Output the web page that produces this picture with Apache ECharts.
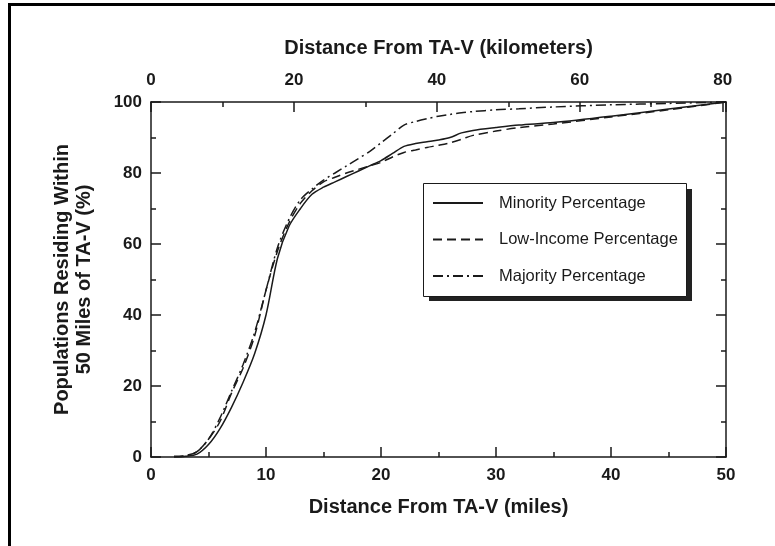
<!DOCTYPE html>
<html>
<head>
<meta charset="utf-8">
<script src="https://cdn.jsdelivr.net/npm/echarts@6/dist/echarts.min.js"></script>
<style>
  html, body { margin: 0; padding: 0; background: #fff; }
  #chart { width: 775px; height: 546px; }
</style>
</head>
<body>
<div id="chart"></div>
<script>
// distance from TA-V in miles
const miles = [2, 3, 4, 5, 6, 7, 8, 9, 10, 11, 12, 13, 14, 15, 16, 17, 18, 19, 20,
  21, 22, 23, 24, 25, 26, 27, 28, 30, 32, 35, 40, 45, 50];

// cumulative percentage of each population within the distance
const minority = [0, 0.2, 0.8, 3.5, 8, 14, 21, 29, 40, 56, 65, 70, 74, 76, 77.5, 79, 80.5, 82, 83.5,
  85.5, 87.5, 88.3, 88.8, 89.3, 90, 91.3, 92, 92.8, 93.5, 94.2, 96, 98, 100];
const lowIncome = [0.2, 0.4, 1.5, 5, 10, 18, 25, 34, 47, 58, 66, 71.5, 75, 77.5, 78.8, 80, 81, 82, 83,
  84.5, 85.8, 86.5, 87.2, 87.8, 88.5, 89.5, 90.6, 91.8, 92.8, 93.8, 95.8, 97.8, 100];
const majority = [0, 0.3, 1.5, 5, 11, 18.5, 26, 35, 47, 59, 67, 72.5, 75.5, 78, 80, 82, 84, 86, 88.5,
  91, 93.5, 94.5, 95.3, 96, 96.5, 97, 97.3, 97.8, 98.1, 98.6, 99.2, 99.6, 100];

const seriesNames = ['Minority Percentage', 'Low-Income Percentage', 'Majority Percentage'];
const KM_PER_50_MILES = 80.4672;

const font = 'Liberation Sans, Arial, sans-serif';
const ink = '#1a1a1a';

const chart = echarts.init(document.getElementById('chart'));

const tickLabel = { color: ink, fontFamily: font, fontWeight: 'bold', fontSize: 17 };
const axisName = { color: ink, fontFamily: font, fontWeight: 'bold', fontSize: 20 };

function frameAxis(extra) {
  return Object.assign({
    type: 'value',
    axisLine: { show: true, onZero: false, lineStyle: { color: ink, width: 1.5 } },
    axisTick: { show: true, inside: true, length: 10, lineStyle: { color: ink, width: 1.5 } },
    minorTick: { show: true, splitNumber: 2, length: 5, lineStyle: { color: ink, width: 1.5 } },
    splitLine: { show: false },
    minorSplitLine: { show: false }
  }, extra);
}

const pair = arr => miles.map((m, i) => [m, arr[i]]);

const option = {
  animation: false,
  backgroundColor: '#fff',
  grid: { left: 151, right: 49, top: 102, bottom: 89 },
  legend: {
    orient: 'vertical',
    left: 423,
    top: 183,
    data: seriesNames,
    itemWidth: 50,
    itemHeight: 14,
    itemGap: 19.5,
    padding: [11.5, 4, 12, 9],
    itemStyle: { opacity: 0 },
    lineStyle: { width: 2 },
    textStyle: { color: ink, fontFamily: font, fontSize: 16.5, padding: [0, 0, 0, 11] }
  },
  xAxis: [
    frameAxis({
      position: 'bottom',
      min: 0, max: 50, interval: 10,
      axisLabel: Object.assign({ margin: 10 }, tickLabel),
      name: 'Distance From TA-V (miles)',
      nameLocation: 'middle',
      nameGap: 40,
      nameTextStyle: axisName
    }),
    frameAxis({
      position: 'top',
      min: 0, max: KM_PER_50_MILES, interval: 20,
      axisLabel: Object.assign({
        margin: 13,
        formatter: v => (Math.abs(v % 20) < 1e-6 ? String(v) : '')
      }, tickLabel),
      name: 'Distance From TA-V (kilometers)',
      nameLocation: 'middle',
      nameGap: 44,
      nameTextStyle: axisName
    })
  ],
  yAxis: [
    frameAxis({
      position: 'left',
      min: 0, max: 100, interval: 20,
      axisLabel: Object.assign({ margin: 9 }, tickLabel),
      name: 'Populations Residing Within\n50 Miles of TA-V (%)',
      nameLocation: 'middle',
      nameRotate: 90,
      nameGap: 56,
      nameTextStyle: Object.assign({ lineHeight: 22 }, axisName)
    }),
    frameAxis({
      position: 'right',
      min: 0, max: 100, interval: 20,
      axisLabel: { show: false }
    })
  ],
  graphic: [
    // page frame: top and left rules
    { type: 'line', shape: { x1: 8, y1: 4.5, x2: 775, y2: 4.5 }, style: { stroke: '#000', lineWidth: 3 } },
    { type: 'line', shape: { x1: 9.5, y1: 3, x2: 9.5, y2: 546 }, style: { stroke: '#000', lineWidth: 3 } },
    // legend box with drop shadow
    { type: 'rect', z: 3, shape: { x: 429, y: 189, width: 263, height: 112 }, style: { fill: '#222' } },
    { type: 'rect', z: 3, shape: { x: 423.5, y: 183.5, width: 263, height: 113 },
      style: { fill: '#fff', stroke: ink, lineWidth: 1 } }
  ],
  series: [
    {
      name: seriesNames[0], type: 'line', data: pair(minority),
      xAxisIndex: 0, yAxisIndex: 0, symbol: 'none', smooth: 0.3,
      lineStyle: { color: ink, width: 1.5, type: 'solid' },
      itemStyle: { color: ink }
    },
    {
      name: seriesNames[1], type: 'line', data: pair(lowIncome),
      xAxisIndex: 0, yAxisIndex: 0, symbol: 'none', smooth: 0.3,
      lineStyle: { color: ink, width: 1.5, type: [9, 5] },
      itemStyle: { color: ink }
    },
    {
      name: seriesNames[2], type: 'line', data: pair(majority),
      xAxisIndex: 0, yAxisIndex: 0, symbol: 'none', smooth: 0.3,
      lineStyle: { color: ink, width: 1.5, type: [10, 4, 2, 4] },
      itemStyle: { color: ink }
    }
  ]
};

chart.setOption(option);
</script>
</body>
</html>
